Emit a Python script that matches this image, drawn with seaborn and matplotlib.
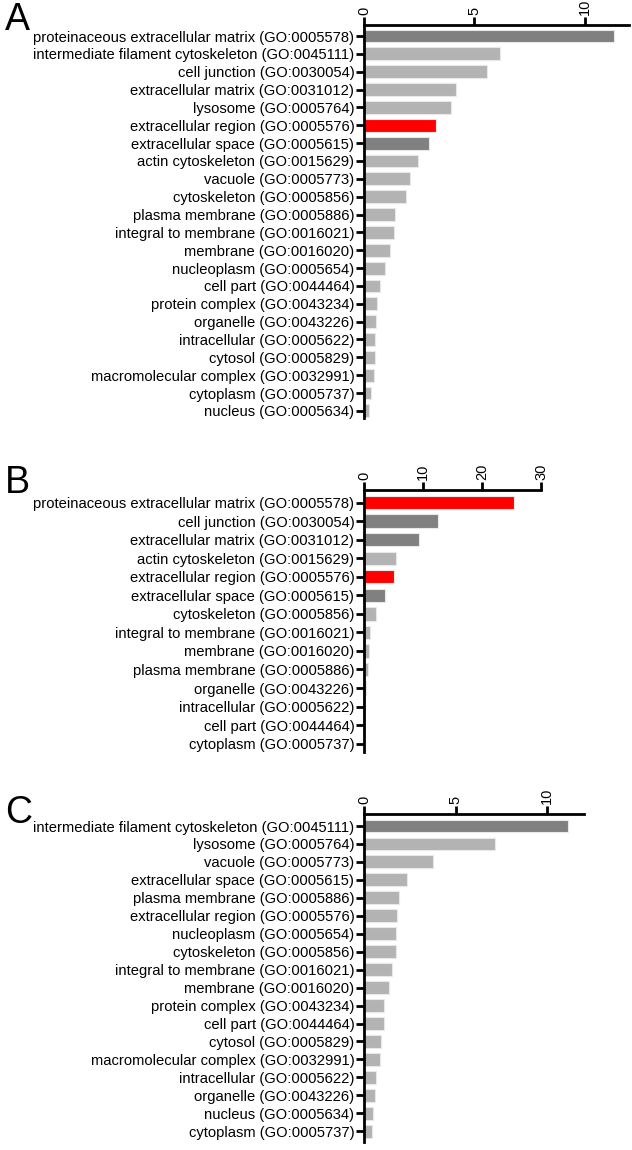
import matplotlib
matplotlib.use("Agg")
import matplotlib.pyplot as plt
import seaborn as sns
import pandas as pd

sns.set_theme(style="white")
plt.rcParams['font.family'] = ['Liberation Sans', 'DejaVu Sans']
plt.rcParams['text.color'] = 'black'

DARK = "#808080"
LIGHT = "#b3b3b3"
RED = "#ff0000"

# Panel A
a_terms = [
    "proteinaceous extracellular matrix (GO:0005578)",
    "intermediate filament cytoskeleton (GO:0045111)",
    "cell junction (GO:0030054)",
    "extracellular matrix (GO:0031012)",
    "lysosome (GO:0005764)",
    "extracellular region (GO:0005576)",
    "extracellular space (GO:0005615)",
    "actin cytoskeleton (GO:0015629)",
    "vacuole (GO:0005773)",
    "cytoskeleton (GO:0005856)",
    "plasma membrane (GO:0005886)",
    "integral to membrane (GO:0016021)",
    "membrane (GO:0016020)",
    "nucleoplasm (GO:0005654)",
    "cell part (GO:0044464)",
    "protein complex (GO:0043234)",
    "organelle (GO:0043226)",
    "intracellular (GO:0005622)",
    "cytosol (GO:0005829)",
    "macromolecular complex (GO:0032991)",
    "cytoplasm (GO:0005737)",
    "nucleus (GO:0005634)",
]
a_values = [11.33, 6.15, 5.58, 4.16, 3.94, 3.27, 2.94, 2.43, 2.08, 1.92, 1.40,
            1.34, 1.18, 0.94, 0.74, 0.57, 0.54, 0.48, 0.48, 0.45, 0.32, 0.24]
a_colors = [DARK, LIGHT, LIGHT, LIGHT, LIGHT, RED, DARK] + [LIGHT] * 15
a_ticks = [0, 5, 10]

# Panel B
b_terms = [
    "proteinaceous extracellular matrix (GO:0005578)",
    "cell junction (GO:0030054)",
    "extracellular matrix (GO:0031012)",
    "actin cytoskeleton (GO:0015629)",
    "extracellular region (GO:0005576)",
    "extracellular space (GO:0005615)",
    "cytoskeleton (GO:0005856)",
    "integral to membrane (GO:0016021)",
    "membrane (GO:0016020)",
    "plasma membrane (GO:0005886)",
    "organelle (GO:0043226)",
    "intracellular (GO:0005622)",
    "cell part (GO:0044464)",
    "cytoplasm (GO:0005737)",
]
b_values = [25.4, 12.5, 9.3, 5.4, 5.0, 3.56, 2.03, 0.96, 0.85, 0.62, 0.34, 0.12, 0.06, 0.04]
b_colors = [RED, DARK, DARK, LIGHT, RED, DARK] + [LIGHT] * 8
b_ticks = [0, 10, 20, 30]

# Panel C
c_terms = [
    "intermediate filament cytoskeleton (GO:0045111)",
    "lysosome (GO:0005764)",
    "vacuole (GO:0005773)",
    "extracellular space (GO:0005615)",
    "plasma membrane (GO:0005886)",
    "extracellular region (GO:0005576)",
    "nucleoplasm (GO:0005654)",
    "cytoskeleton (GO:0005856)",
    "integral to membrane (GO:0016021)",
    "membrane (GO:0016020)",
    "protein complex (GO:0043234)",
    "cell part (GO:0044464)",
    "cytosol (GO:0005829)",
    "macromolecular complex (GO:0032991)",
    "intracellular (GO:0005622)",
    "organelle (GO:0043226)",
    "nucleus (GO:0005634)",
    "cytoplasm (GO:0005737)",
]
c_values = [11.12, 7.14, 3.79, 2.34, 1.90, 1.78, 1.74, 1.72, 1.54, 1.34, 1.09,
            1.08, 0.92, 0.87, 0.65, 0.60, 0.49, 0.43]
c_colors = [DARK] + [LIGHT] * 17
c_ticks = [0, 5, 10]

W, H = 632, 1150
fig = plt.figure(figsize=(W / 100, H / 100), dpi=100)


def panel(rect_px, terms, values, colors, ticks, xmax, ylim):
    left, top, right, bottom = rect_px
    ax = fig.add_axes([left / W, 1 - bottom / H, (right - left) / W, (bottom - top) / H])
    df = pd.DataFrame({"term": terms, "value": values})
    sns.barplot(data=df, x="value", y="term", hue="term", palette=colors,
                legend=False, orient="h", width=0.72, ax=ax,
                edgecolor="#e8e8e8", linewidth=0.8, saturation=1)
    ax.set_xlim(0, xmax)
    ax.set_ylim(*ylim)
    ax.xaxis.tick_top()
    ax.set_xticks(ticks)
    ax.set_xticklabels([str(t) for t in ticks], rotation=90, fontsize=10.5)
    ax.set_xlabel("")
    ax.set_ylabel("")
    for s in ["right", "bottom"]:
        ax.spines[s].set_visible(False)
    for s in ["top", "left"]:
        ax.spines[s].set_linewidth(2)
        ax.spines[s].set_color("black")
    ax.tick_params(axis="x", top=True, bottom=False, length=6, width=2,
                   direction="out", pad=1, colors="black")
    ax.tick_params(axis="y", left=True, length=6, width=2, direction="out",
                   pad=1, labelsize=10.6, colors="black")
    return ax


panel((364, 25, 629, 418), a_terms, a_values, a_colors, a_ticks, 12, (21.4, -0.62))
panel((364, 490, 541, 752), b_terms, b_values, b_colors, b_ticks, 30, (13.45, -0.68))
panel((364, 814, 584, 1142), c_terms, c_values, c_colors, c_ticks, 12, (17.6, -0.67))

fig.text(5 / W, 1 - 2 / H, "A", fontsize=27, va="top", ha="left", color="black")
fig.text(5 / W, 1 - 465 / H, "B", fontsize=27, va="top", ha="left", color="black")
fig.text(5 / W, 1 - 795 / H, "C", fontsize=27, va="top", ha="left", color="black")

fig.savefig("out.png", dpi=100)
